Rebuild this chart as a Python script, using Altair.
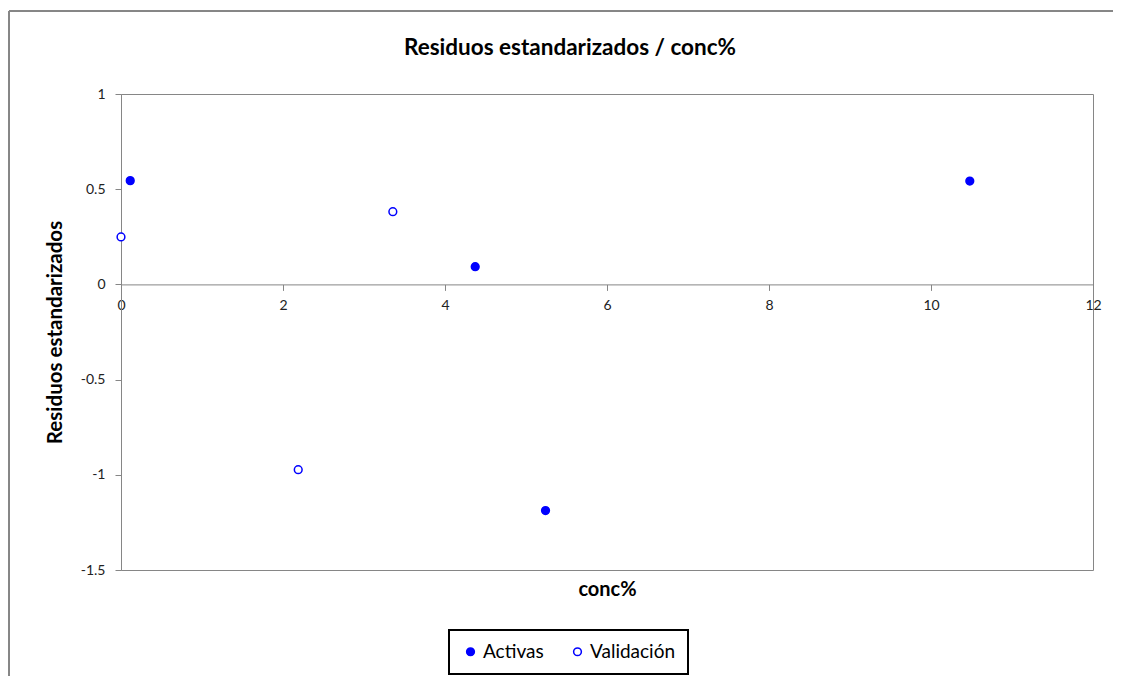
import altair as alt
import pandas as pd

# Data
activas_x = [0.114, 4.373, 5.241, 10.479]
activas_y = [0.545, 0.093, -1.188, 0.543]
valid_x = [0.0, 3.356, 2.188]
valid_y = [0.249, 0.382, -0.973]
series = ["Activas", "Validación"]
x_ticks = [0, 2, 4, 6, 8, 10, 12]
y_ticks = [-1.5, -1, -0.5, 0, 0.5, 1]

df = pd.DataFrame({
    "conc": activas_x + valid_x,
    "res": activas_y + valid_y,
    "serie": [series[0]] * len(activas_x) + [series[1]] * len(valid_x),
})

FONT = "Lato"
W, H = 972, 476
BLUE = "#0000FF"
GREY = "#868686"

xscale = alt.Scale(domain=[0, 12], nice=False, zero=False)
yscale = alt.Scale(domain=[-1.5, 1], nice=False, zero=False)

# zero of y in pixels from the bottom of the plot, for the axis offset
y0_from_bottom = H * (0 - (-1.5)) / 2.5

points = alt.Chart(df).mark_point(filled=False, strokeWidth=1.5, opacity=1).encode(
    x=alt.X("conc:Q", scale=xscale,
            axis=alt.Axis(orient="bottom", values=x_ticks, title=None, offset=-y0_from_bottom,
                          grid=False, tickSize=6, tickColor=GREY, domainColor=GREY,
                          labelPadding=8, labelFontSize=14, labelColor="#222", labelFont=FONT,
                          labelFlush=False)),
    y=alt.Y("res:Q", scale=yscale,
            axis=alt.Axis(values=y_ticks, title="Residuos estandarizados", grid=False,
                          labelExpr="toString(datum.value)",
                          tickSize=6, tickColor=GREY, domainColor=GREY, labelPadding=10,
                          labelFontSize=14, labelColor="#222", labelFont=FONT,
                          titleFont=FONT, titleFontSize=20.5, titleFontWeight="bold",
                          titleColor="#000", titlePadding=15)),
    fill=alt.Fill("serie:N", scale=alt.Scale(domain=series, range=[BLUE, "white"]),
                  legend=alt.Legend(title=None)),
    stroke=alt.Stroke("serie:N", scale=alt.Scale(domain=series, range=[BLUE, BLUE]),
                      legend=alt.Legend(title=None)),
    size=alt.value(60),
)

xtitle = alt.Chart(df).mark_point(opacity=0).encode(
    x=alt.X("conc:Q", scale=xscale,
            axis=alt.Axis(orient="bottom", title="conc%", labels=False, ticks=False, domain=False,
                          grid=False, titleFont=FONT, titleFontSize=20, titleFontWeight="bold",
                          titleColor="#000", titlePadding=9)),
)

frame_top = alt.Chart(df).mark_rule(color=GREY, strokeWidth=1, clip=False).encode(
    x=alt.value(-112), x2=alt.value(992), y=alt.value(-83)
)
frame_left = alt.Chart(df).mark_rule(color=GREY, strokeWidth=1, clip=False).encode(
    x=alt.value(-112), y=alt.value(-83), y2=alt.value(582)
)

chart = alt.layer(frame_top, frame_left, xtitle, points).resolve_axis(x="independent").properties(
    width=W, height=H,
    autosize=alt.AutoSizeParams(type="none"),
    padding={"left": 113, "top": 86, "right": 20, "bottom": 106},
    title=alt.TitleParams("Residuos estandarizados / conc%", font=FONT, fontSize=22.5,
                          fontWeight="bold", color="#000", anchor="middle", dx=-37,
                          offset=0, dy=49),
).configure_view(
    stroke=GREY, strokeWidth=1
).configure_legend(
    orient="none", legendX=328, legendY=536, direction="horizontal",
    strokeColor="#000", strokeWidth=2, padding=12, columnPadding=24, labelOffset=3,
    labelFont=FONT, labelFontSize=19, labelColor="#000", symbolSize=60, symbolStrokeWidth=1.5,
)

chart.save("out.html", embed_options={"renderer": "svg", "actions": False})
